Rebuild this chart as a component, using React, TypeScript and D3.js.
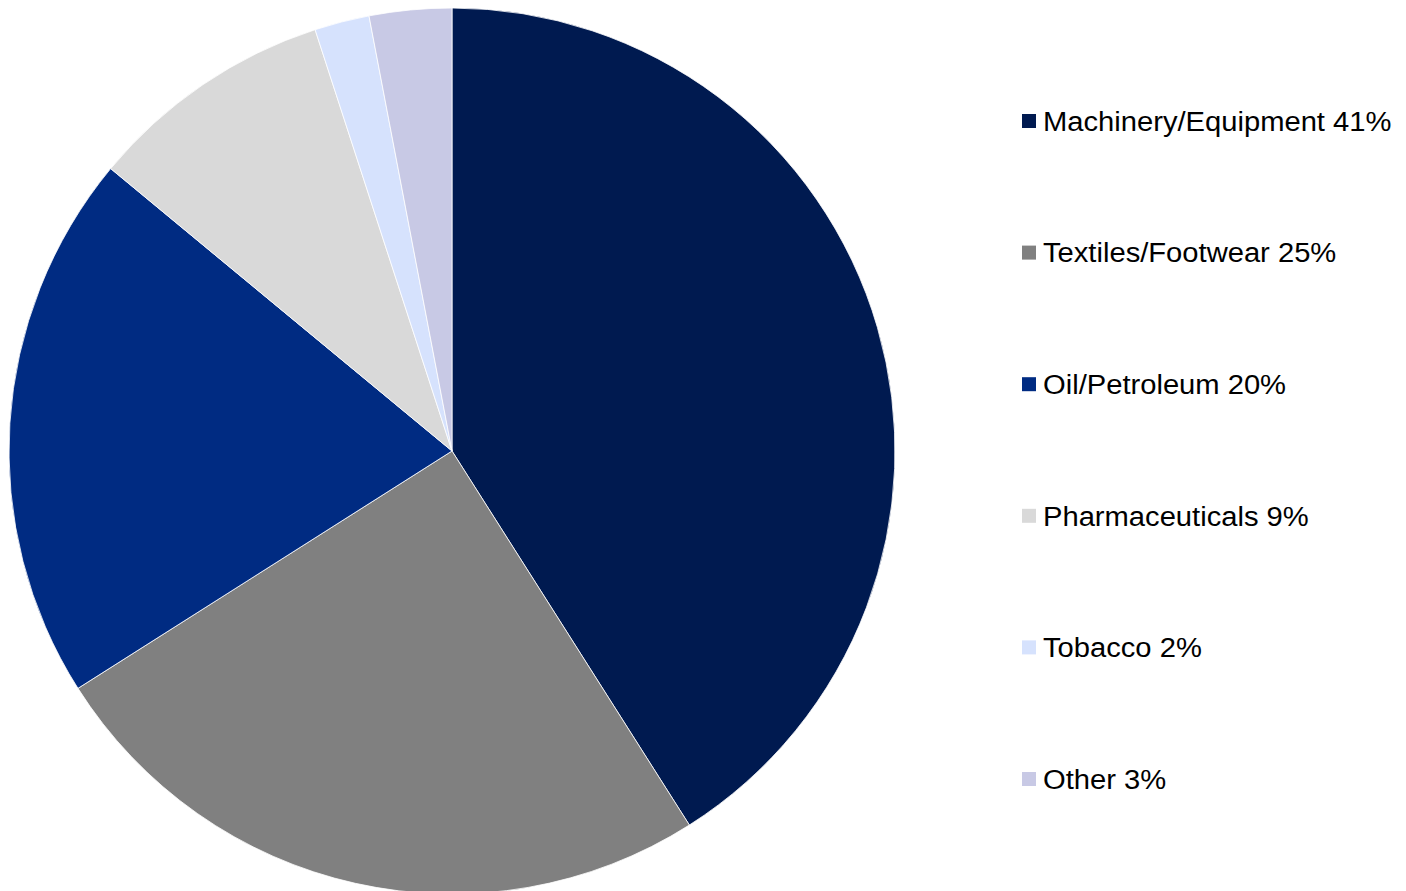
import React, { useEffect, useRef } from 'react';
import * as d3 from 'd3';

const categories = ['Machinery/Equipment', 'Textiles/Footwear', 'Oil/Petroleum', 'Pharmaceuticals', 'Tobacco', 'Other'];
const shares = [41, 25, 20, 9, 2, 3];
const colors = ['#001a50', '#808080', '#002b82', '#d9d9d9', '#d6e2fd', '#c8c9e5'];

const W = 1406;
const H = 891;

export default function App() {
  const svgRef = useRef<SVGSVGElement | null>(null);

  useEffect(() => {
    if (!svgRef.current) return;
    const svg = d3.select(svgRef.current);
    svg.selectAll('*').remove();

    const cx = 452;
    const cy = 451;
    const r = 443;

    const pie = d3.pie<number>().sort(null).value(d => d);
    const arc = d3.arc<d3.PieArcDatum<number>>().innerRadius(0).outerRadius(r);

    const g = svg.append('g').attr('transform', `translate(${cx},${cy})`);
    g.selectAll('path')
      .data(pie(shares))
      .join('path')
      .attr('d', arc)
      .attr('fill', (_, i) => colors[i])
      .attr('stroke', '#ffffff')
      .attr('stroke-width', 0.8);

    // Legend
    const y = d3.scalePoint<number>()
      .domain(d3.range(categories.length))
      .range([121, 779]);

    const legend = svg.append('g');
    const item = legend.selectAll('g')
      .data(categories)
      .join('g')
      .attr('transform', (_, i) => `translate(1022,${y(i)})`);

    item.append('rect')
      .attr('x', 0)
      .attr('y', -7)
      .attr('width', 14)
      .attr('height', 14)
      .attr('fill', (_, i) => colors[i]);

    // the source text is a bit wider than plain Arial, so stretch it slightly
    item.append('text')
      .attr('transform', 'translate(21,0) scale(1.08,1)')
      .attr('dy', '0.36em')
      .attr('font-family', 'Liberation Sans, Arial, sans-serif')
      .attr('font-size', 27)
      .attr('fill', '#000')
      .text((d, i) => `${d} ${shares[i]}%`);
  }, []);

  return (
    <svg
      ref={svgRef}
      width={W}
      height={H}
      style={{ position: 'absolute', left: 0, top: 0, background: '#fff' }}
    />
  );
}
